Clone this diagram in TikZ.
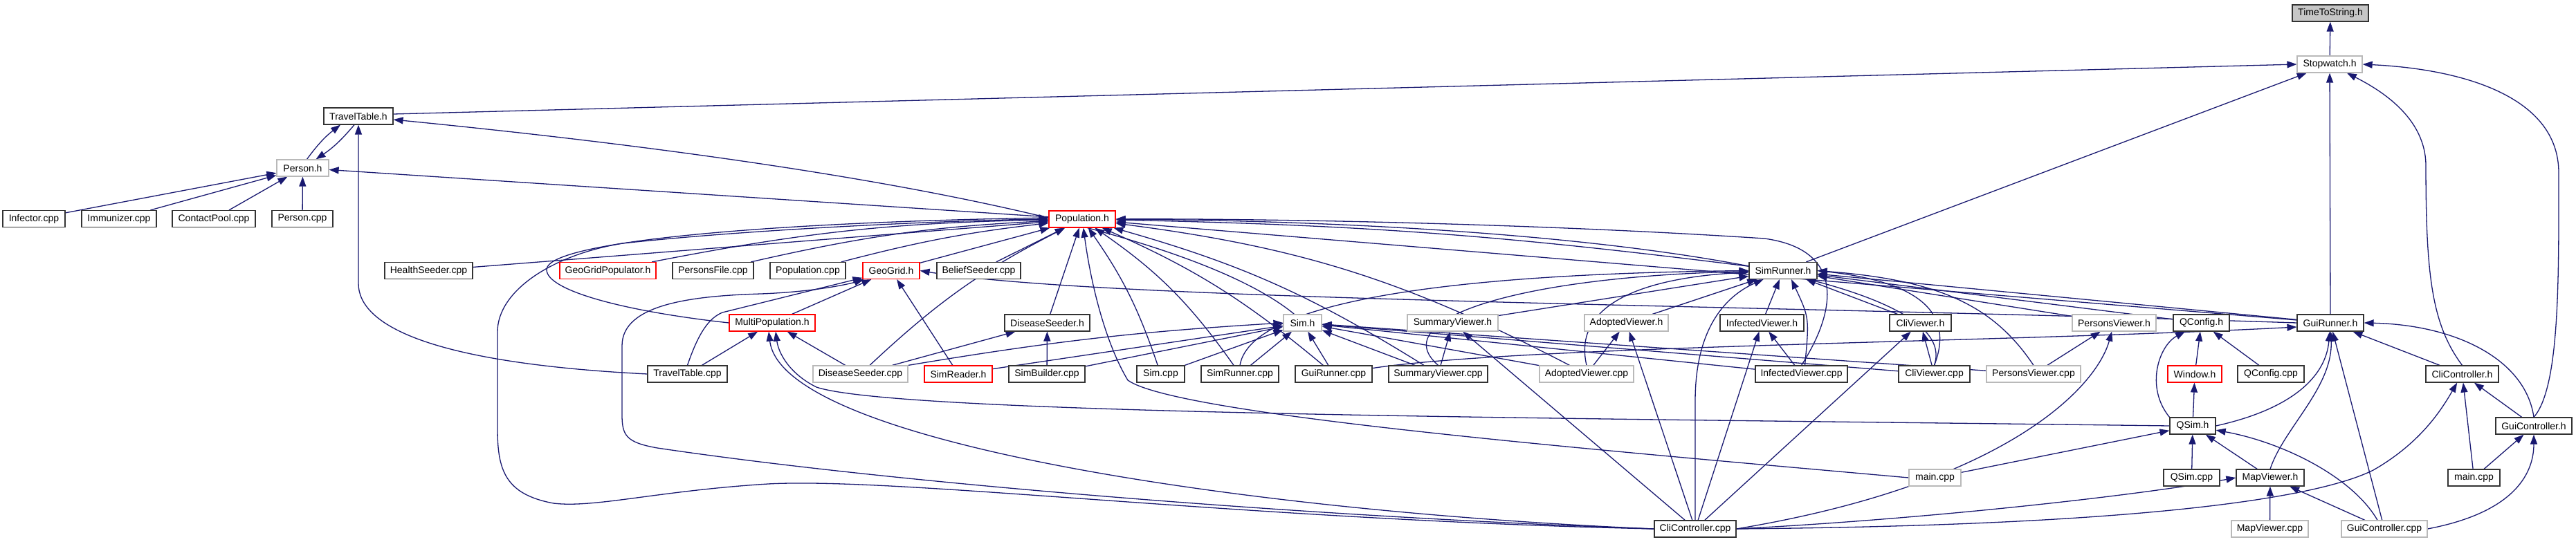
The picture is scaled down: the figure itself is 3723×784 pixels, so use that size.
\documentclass[tikz,border=0pt]{standalone}
\usepackage{fontspec}
\setmainfont{Liberation Sans}
\usetikzlibrary{arrows.meta, backgrounds}
\definecolor{edgeblue}{HTML}{191970}
\definecolor{truncred}{HTML}{FF0000}

\begin{document}
\begin{tikzpicture}[
      x=1pt, y=-1pt,
      file/.style={rectangle, draw=black!80, fill=white, line width=1.2pt,
                   minimum height=24pt, inner xsep=2pt, inner ysep=0pt,
                   font=\fontsize{14pt}{16pt}\selectfont},
      undoc/.style={file, draw=gray!55},
      trunc/.style={file, draw=truncred},
      self/.style={file, fill=gray!45},
      inc/.style={draw=edgeblue, line width=1.3pt,
                  -{Triangle[length=14pt,width=10pt]}}
    ]
    \useasboundingbox (0,0) rectangle (3723,784);

    % top
    \node[self, minimum width=110pt] (timetostr) at (3368,19) {TimeToString.h};
    \node[undoc, minimum width=94pt] (stopwatch) at (3367,93) {Stopwatch.h};
    \node[file, minimum width=100pt] (traveltableh) at (518,168) {TravelTable.h};
    \node[undoc, minimum width=75pt] (personh) at (437.5,243) {Person.h};

    % Person.h users
    \node[file, minimum width=90pt] (infector) at (49,316.5) {Infector.cpp};
    \node[file, minimum width=108pt] (immunizer) at (172,316.5) {Immunizer.cpp};
    \node[file, minimum width=120pt] (contactpool) at (309,316.5) {ContactPool.cpp};
    \node[file, minimum width=88pt] (personcpp) at (437,316.5) {Person.cpp};
    \node[trunc, minimum width=96pt] (populationh) at (1564,317) {Population.h};

    % Population.h users
    \node[file, minimum width=127pt] (healthseeder) at (619.5,391.5) {HealthSeeder.cpp};
    \node[trunc, minimum width=139pt] (geogridpop) at (878.5,391.5) {GeoGridPopulator.h};
    \node[file, minimum width=117pt] (personsfile) at (1030.5,391.5) {PersonsFile.cpp};
    \node[file, minimum width=109pt] (populationcpp) at (1167.5,391.5) {Population.cpp};
    \node[trunc, minimum width=82pt] (geogridh) at (1288,391.5) {GeoGrid.h};
    \node[file, minimum width=121pt] (beliefseeder) at (1414.5,391.5) {BeliefSeeder.cpp};
    \node[file, minimum width=98pt] (simrunnerh) at (2577,391.5) {SimRunner.h};

    % headers
    \node[trunc, minimum width=124pt] (multipop) at (1116,467) {MultiPopulation.h};
    \node[file, minimum width=123pt] (diseaseseederh) at (1513.5,467) {DiseaseSeeder.h};
    \node[undoc, minimum width=55pt] (simh) at (1882.5,467) {Sim.h};
    \node[undoc, minimum width=131pt] (summaryviewerh) at (2099.5,467) {SummaryViewer.h};
    \node[undoc, minimum width=121pt] (adoptedviewerh) at (2350.5,467) {AdoptedViewer.h};
    \node[file, minimum width=121pt] (infectedviewerh) at (2546.5,467) {InfectedViewer.h};
    \node[file, minimum width=89pt] (cliviewerh) at (2775.5,467) {CliViewer.h};
    \node[undoc, minimum width=121pt] (personsviewerh) at (3055.5,467) {PersonsViewer.h};
    \node[file, minimum width=81pt] (qconfigh) at (3181.5,467) {QConfig.h};
    \node[file, minimum width=96pt] (guirunnerh) at (3368,467) {GuiRunner.h};

    % sources
    \node[file, minimum width=115pt] (traveltablecpp) at (993.5,541) {TravelTable.cpp};
    \node[undoc, minimum width=137pt] (diseaseseedercpp) at (1243.5,541) {DiseaseSeeder.cpp};
    \node[trunc, minimum width=98pt] (simreaderh) at (1385,541) {SimReader.h};
    \node[file, minimum width=110pt] (simbuildercpp) at (1513,541) {SimBuilder.cpp};
    \node[file, minimum width=69pt] (simcpp) at (1677.5,541) {Sim.cpp};
    \node[file, minimum width=112pt] (simrunnercpp) at (1792,541) {SimRunner.cpp};
    \node[file, minimum width=111pt] (guirunnercpp) at (1927.5,541) {GuiRunner.cpp};
    \node[file, minimum width=143pt] (summaryviewercpp) at (2078.5,541) {SummaryViewer.cpp};
    \node[undoc, minimum width=136pt] (adoptedviewercpp) at (2293,541) {AdoptedViewer.cpp};
    \node[file, minimum width=133pt] (infectedviewercpp) at (2603.5,541) {InfectedViewer.cpp};
    \node[file, minimum width=103pt] (cliviewercpp) at (2795.5,541) {CliViewer.cpp};
    \node[undoc, minimum width=136pt] (personsviewercpp) at (2939,541) {PersonsViewer.cpp};
    \node[trunc, minimum width=78pt] (windowh) at (3172,541) {Window.h};
    \node[file, minimum width=96pt] (qconfigcpp) at (3282,541) {QConfig.cpp};
    \node[file, minimum width=105pt] (clicontrollerh) at (3558.5,541) {CliController.h};

    % Qt part
    \node[file, minimum width=66pt] (qsimh) at (3169,616) {QSim.h};
    \node[file, minimum width=110pt] (guicontrollerh) at (3662,616) {GuiController.h};
    \node[undoc, minimum width=75pt] (maincppl) at (2796.5,691) {main.cpp};
    \node[file, minimum width=81pt] (qsimcpp) at (3167.5,691) {QSim.cpp};
    \node[file, minimum width=98pt] (mapviewerh) at (3281,691) {MapViewer.h};
    \node[file, minimum width=75pt] (maincppr) at (3575.5,691) {main.cpp};
    \node[file, minimum width=118pt] (clicpp) at (2450,765) {CliController.cpp};
    \node[undoc, minimum width=111pt] (mapviewercpp) at (3280.5,765) {MapViewer.cpp};
    \node[undoc, minimum width=124pt] (guicontrollercpp) at (3446,765) {GuiController.cpp};

    \begin{scope}[on background layer]
    % Stopwatch.h
    \draw[inc] (stopwatch) -- (timetostr);
    \draw[inc] ([yshift=3pt]traveltableh.east) -- (stopwatch.west);
    \draw[inc] (simrunnerh) -- (stopwatch);
    \draw[inc] (guirunnerh) -- (stopwatch);
    \draw[inc] (clicontrollerh.north) .. controls (3515,470) and (3506,400) .. (3506,240)
               .. controls (3506,170) and (3440,130) .. (stopwatch);
    \draw[inc] (guicontrollerh.north) .. controls (3700,560) and (3698,400) .. (3698,250)
               .. controls (3698,140) and (3560,100) .. (stopwatch.east);

    % TravelTable.h / Person.h
    \draw[inc] ([xshift=6pt]personh.north) to[bend left=8] ([xshift=-26pt]traveltableh.south);
    \draw[inc] ([xshift=-6pt]traveltableh.south) to[bend left=8] ([xshift=19pt]personh.north);
    \draw[inc] ([xshift=-12pt]simh.north) .. controls (1780,380) and (1500,265) .. ([yshift=-5pt]traveltableh.east);
    \draw[inc] (traveltablecpp.west) .. controls (620,525) and (518,470) .. (518,410) -- (traveltableh);
    \draw[inc] (populationh) -- (personh);
    \draw[inc] (infector) -- (personh);
    \draw[inc] (immunizer) -- (personh);
    \draw[inc] (contactpool) -- (personh);
    \draw[inc] (personcpp) -- (personh);

    % Population.h
    \draw[inc] (healthseeder) -- (populationh);
    \draw[inc] (geogridpop) to[bend left=5] (populationh);
    \draw[inc] (personsfile) to[bend left=5] (populationh);
    \draw[inc] (populationcpp) to[bend left=4] (populationh);
    \draw[inc] (geogridh) -- (populationh);
    \draw[inc] (beliefseeder) -- (populationh);
    \draw[inc] (multipop.west) .. controls (900,450) and (790,420) .. (790,390)
               .. controls (790,350) and (1100,322) .. ([yshift=2pt]populationh.west);
    \draw[inc] (clicpp.west) .. controls (1800,752) and (1300,690) .. (1110,700)
               .. controls (950,710) and (860,735) .. (800,728)
               .. controls (730,715) and (719,680) .. (719,620) -- (719,480)
               .. controls (719,420) and (800,368) .. (900,352)
               .. controls (1100,330) and (1400,318) .. (populationh.west);
    \draw[inc] (diseaseseederh) -- (populationh);
    \draw[inc] (diseaseseedercpp) to[bend left=8] (populationh);
    \draw[inc] (simcpp) to[bend right=8] (populationh);
    \draw[inc] (simrunnercpp) to[bend right=10] (populationh);
    \draw[inc] (guirunnercpp) to[bend right=8] (populationh);
    \draw[inc] (summaryviewercpp) to[bend right=8] (populationh);
    \draw[inc] (adoptedviewercpp) to[bend right=10] (populationh);
    \draw[inc] (infectedviewercpp.north) .. controls (2660,440) and (2660,360) .. (2550,345)
               .. controls (2200,322) and (1800,316) .. (populationh.east);
    \draw[inc] (cliviewercpp.north) .. controls (2840,400) and (2300,322) .. (populationh.east);
    \draw[inc] (simrunnerh) to[bend right=3] (populationh);
    \draw[inc] (guirunnerh) -- (populationh);
    \draw[inc] (maincppl.west) .. controls (2300,650) and (1700,600) .. (1630,550)
               .. controls (1600,500) and (1578,420) .. (populationh);

    % GeoGrid.h
    \draw[inc] (multipop) -- (geogridh);
    \draw[inc] (traveltablecpp.north) .. controls (1010,480) and (1025,460) .. (1044,452) -- (geogridh);
    \draw[inc] (simreaderh) -- (geogridh);
    \draw[inc] (guirunnerh.west) .. controls (2500,440) and (1600,435) .. (geogridh.east);
    \draw[inc] (clicpp.west) .. controls (1900,748) and (1300,700) .. (950,648)
               .. controls (905,640) and (899,630) .. (899,600) -- (899,500)
               .. controls (899,440) and (1000,428) .. (1100,425)
               .. controls (1180,422) and (1230,410) .. (geogridh);

    % MultiPopulation.h
    \draw[inc] (traveltablecpp) -- (multipop);
    \draw[inc] (diseaseseedercpp) -- (multipop);
    \draw[inc] (qsimh.west) .. controls (2300,605) and (1300,600) .. (1180,560)
               .. controls (1140,540) and (1125,510) .. ([xshift=5pt]multipop.south);
    \draw[inc] (clicpp.west) .. controls (1800,740) and (1130,640) .. ([xshift=-5pt]multipop.south);

    % DiseaseSeeder.h
    \draw[inc] (diseaseseedercpp) -- (diseaseseederh);
    \draw[inc] (simbuildercpp) -- (diseaseseederh);

    % Sim.h
    \draw[inc] (diseaseseedercpp.north east) to[bend left=3] (simh.west);
    \draw[inc] (simreaderh) -- (simh);
    \draw[inc] (simbuildercpp) -- (simh);
    \draw[inc] (simcpp) -- (simh);
    \draw[inc] (simrunnercpp) -- (simh);
    \draw[inc] (guirunnercpp) -- (simh);
    \draw[inc] (summaryviewercpp) -- (simh);
    \draw[inc] (adoptedviewercpp) -- (simh);
    \draw[inc] (infectedviewercpp) -- (simh);
    \draw[inc] (cliviewercpp) -- (simh);
    \draw[inc] (personsviewercpp) -- (simh);

    % SimRunner.h
    \draw[inc] (simrunnercpp.north) .. controls (1810,420) and (2200,395) .. (simrunnerh.west);
    \draw[inc] (summaryviewerh) -- (simrunnerh);
    \draw[inc] (summaryviewercpp.north) .. controls (2000,460) and (2200,400) .. (simrunnerh);
    \draw[inc] (adoptedviewerh) -- (simrunnerh);
    \draw[inc] (adoptedviewercpp.north) .. controls (2270,430) and (2400,400) .. (simrunnerh);
    \draw[inc] (infectedviewerh) -- (simrunnerh);
    \draw[inc] ([xshift=5pt]infectedviewercpp.north) .. controls (2615,460) .. ([xshift=12pt]simrunnerh.south);
    \draw[inc] (cliviewerh) -- (simrunnerh);
    \draw[inc] (cliviewercpp.north) .. controls (2830,440) and (2750,405) .. (simrunnerh.east);
    \draw[inc] (personsviewerh) -- (simrunnerh);
    \draw[inc] (personsviewercpp.north) .. controls (2880,440) and (2800,405) .. (simrunnerh.east);
    \draw[inc] (clicpp.north) -- (2450,580) .. controls (2450,480) and (2490,430) .. (simrunnerh);
    \draw[inc] (qconfigh) -- (simrunnerh);
    \draw[inc] (guirunnerh) -- (simrunnerh);

    % viewers
    \draw[inc] (summaryviewercpp) -- (summaryviewerh);
    \draw[inc] (clicpp) -- (summaryviewerh);
    \draw[inc] (adoptedviewercpp) -- (adoptedviewerh);
    \draw[inc] (clicpp) -- (adoptedviewerh);
    \draw[inc] (infectedviewercpp) -- (infectedviewerh);
    \draw[inc] (clicpp) -- (infectedviewerh);
    \draw[inc] (cliviewercpp) -- (cliviewerh);
    \draw[inc] (clicpp) -- (cliviewerh);
    \draw[inc] (personsviewercpp) -- (personsviewerh);
    \draw[inc] (clicpp.east) .. controls (2900,700) and (3030,560) .. (personsviewerh);

    % GuiRunner.h
    \draw[inc] (guirunnercpp) .. controls (2200,500) and (2900,495) .. ([yshift=-6pt]guirunnerh.west);
    \draw[inc] (qsimh.east) .. controls (3320,590) and (3362,540) .. (guirunnerh);
    \draw[inc] (mapviewerh.north) .. controls (3300,620) and (3372,560) .. (guirunnerh);
    \draw[inc] (guicontrollercpp) -- (guirunnerh);
    \draw[inc] (clicontrollerh) -- (guirunnerh);
    \draw[inc] (guicontrollerh.north) .. controls (3650,520) and (3550,470) .. (guirunnerh.east);

    % QConfig.h, Window.h, QSim.h
    \draw[inc] (qsimh.north west) .. controls (3100,560) and (3120,500) .. (qconfigh);
    \draw[inc] (windowh) -- (qconfigh);
    \draw[inc] (qconfigcpp) -- (qconfigh);
    \draw[inc] (qsimh) -- (windowh);
    \draw[inc] (maincppl) -- (qsimh);
    \draw[inc] (qsimcpp) -- (qsimh);
    \draw[inc] (mapviewerh) -- (qsimh);
    \draw[inc] ([xshift=-10pt]guicontrollercpp.north) .. controls (3400,690) and (3300,640) .. (qsimh);

    % MapViewer.h
    \draw[inc] (mapviewercpp) -- (mapviewerh);
    \draw[inc] (guicontrollercpp) -- (mapviewerh);
    \draw[inc] (clicpp.east) .. controls (2800,750) and (3100,715) .. (mapviewerh.west);

    % controllers
    \draw[inc] (clicpp.east) .. controls (3100,760) and (3350,720) .. (3430,680)
               .. controls (3500,640) and (3530,590) .. (clicontrollerh);
    \draw[inc] (maincppr) -- (clicontrollerh);
    \draw[inc] (guicontrollerh) -- (clicontrollerh);
    \draw[inc] (maincppr) -- (guicontrollerh);
    \draw[inc] (guicontrollercpp.east) .. controls (3640,740) and (3662,680) .. (guicontrollerh.south);
    \end{scope}
  \end{tikzpicture}
\end{document}
